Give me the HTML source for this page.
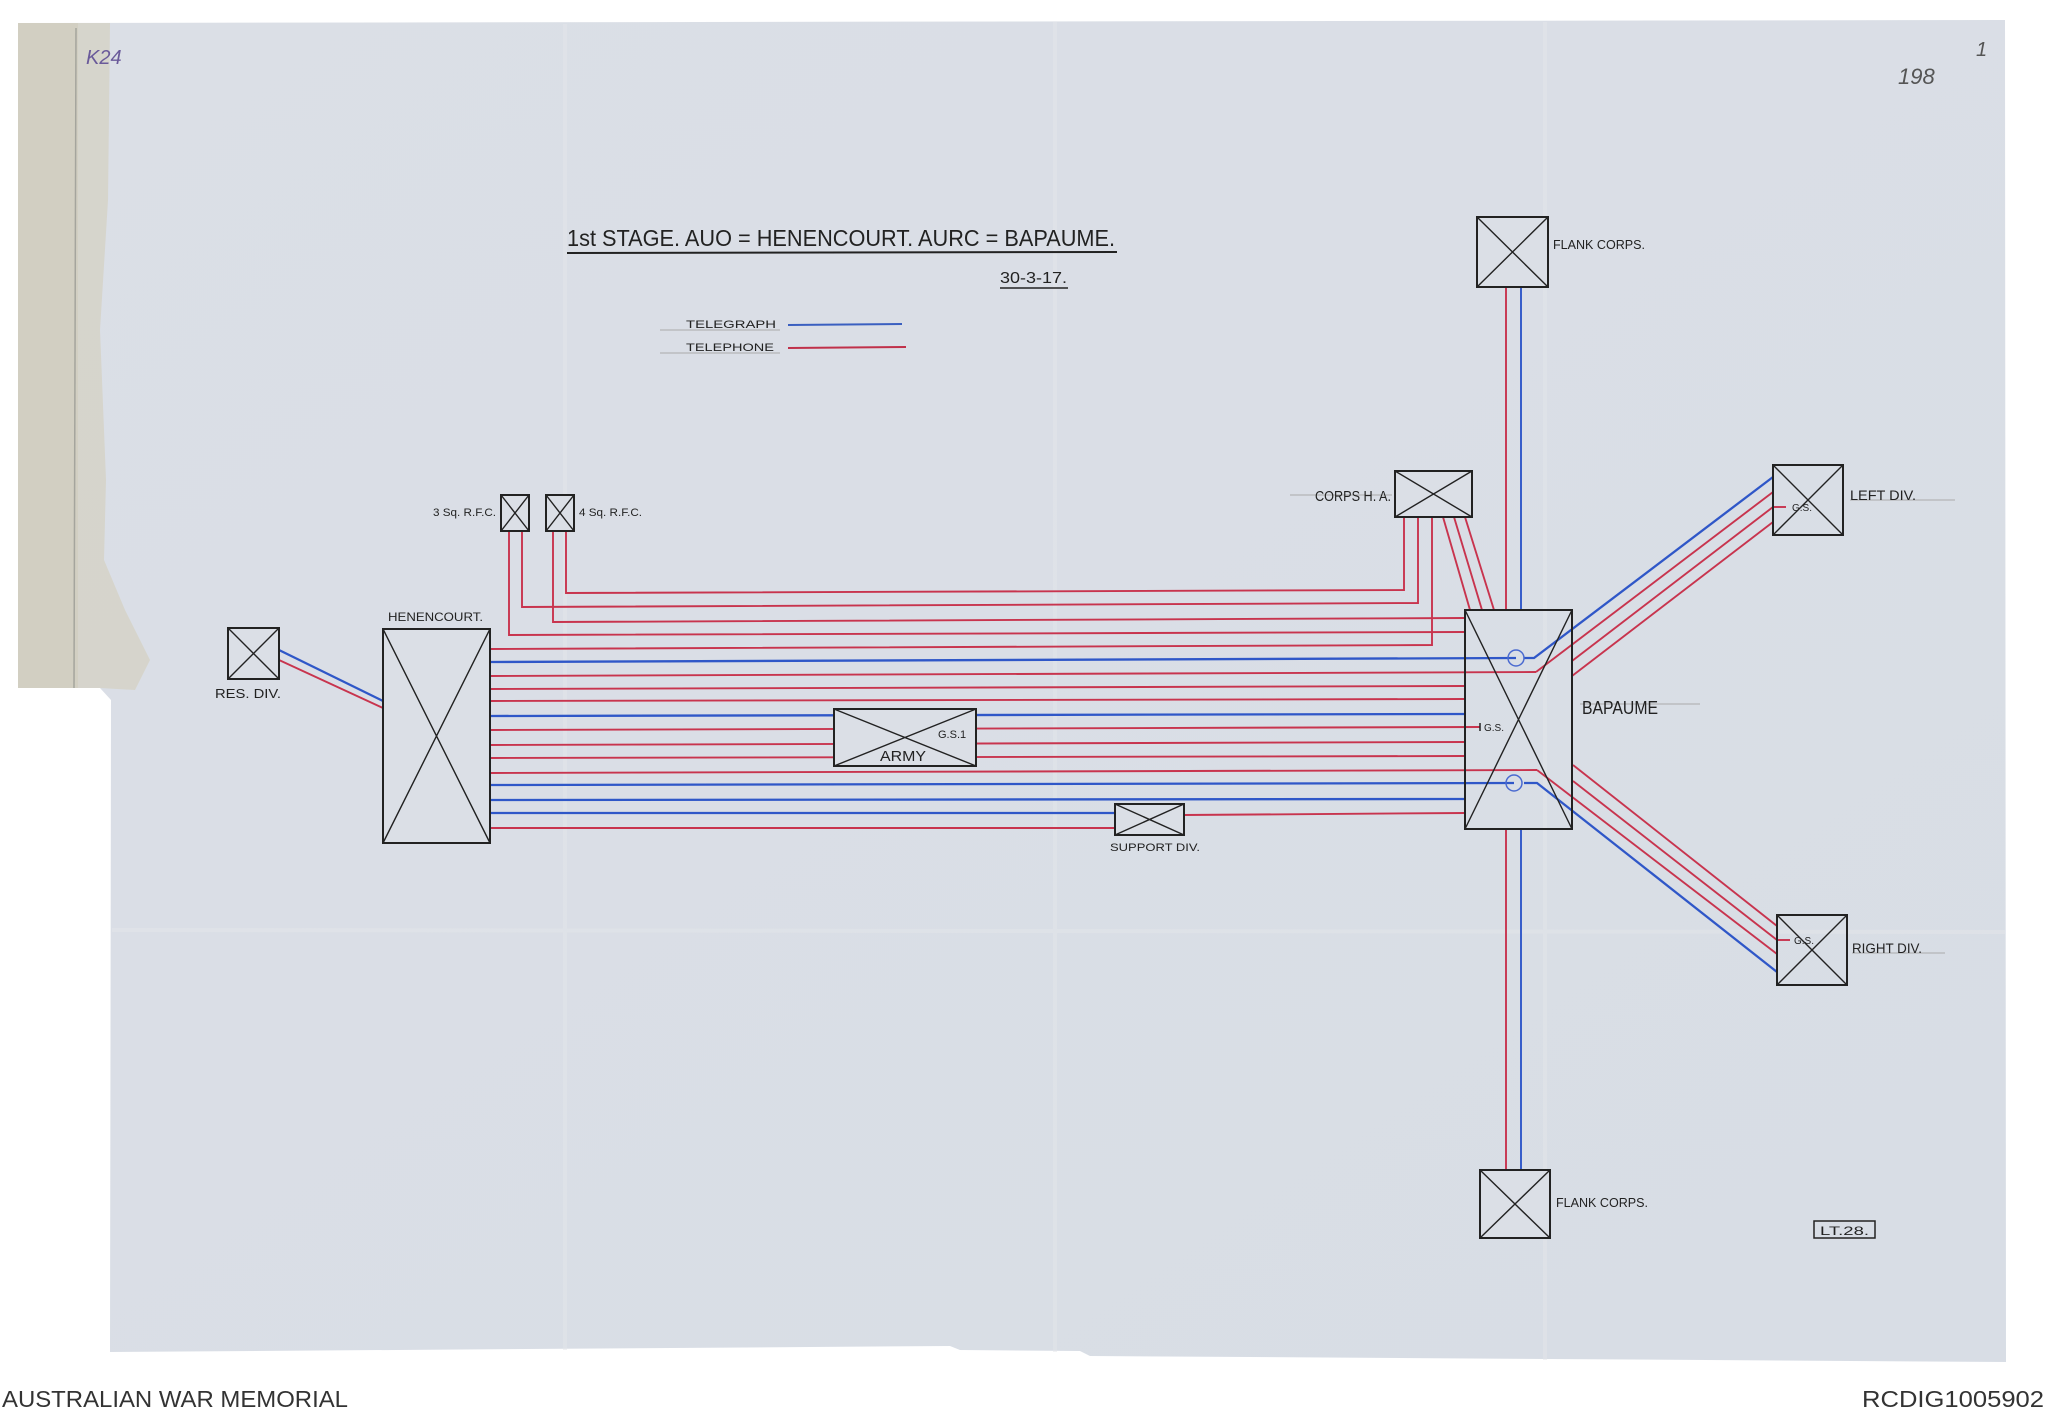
<!DOCTYPE html>
<html><head><meta charset="utf-8"><style>
html,body{margin:0;padding:0;background:#fff;width:2048px;height:1416px;overflow:hidden}
svg{display:block}
text{font-family:"Liberation Sans",sans-serif;fill:#222}
</style></head><body>
<svg width="2048" height="1416" viewBox="0 0 2048 1416" xmlns="http://www.w3.org/2000/svg">
<defs>
<linearGradient id="pg" x1="0" y1="0" x2="1" y2="1">
<stop offset="0" stop-color="#dbdfe6"/><stop offset="1" stop-color="#d8dde5"/>
</linearGradient>
</defs>
<!-- paper -->
<path d="M18,23 L2005,20 L2006,1362 L1090,1356 L1080,1351 L960,1350 L950,1346 L110,1352 L111,700 L100,688 L18,688 Z" fill="url(#pg)"/>
<!-- tan strip -->
<path d="M18,23 L78,23 L78,688 L18,688 Z" fill="#d2cfc2"/>
<path d="M78,23 L110,23 L108,200 L100,330 L106,480 L104,560 L125,610 L150,660 L135,690 L100,688 L78,688 Z" fill="#d4d0c0" opacity="0.7"/>
<line x1="76" y1="28" x2="74" y2="688" stroke="#a5a59d" stroke-width="1.5"/>
<!-- fold lines -->
<g stroke="#e4e6ea" stroke-width="4" opacity="0.5">
<line x1="565" y1="24" x2="565" y2="1350"/>
<line x1="1055" y1="22" x2="1055" y2="1352"/>
<line x1="1545" y1="22" x2="1545" y2="1360"/>
<line x1="112" y1="930" x2="2005" y2="932"/>
</g>
<!-- marginal notes -->
<text x="86" y="64" font-size="20" font-style="italic" style="fill:#6a5a9a">K24</text>
<text x="1898" y="84" font-size="22" font-style="italic" style="fill:#555">198</text>
<text x="1976" y="56" font-size="20" font-style="italic" style="fill:#555">1</text>

<!-- title -->
<text x="567" y="246" font-size="23" textLength="548" lengthAdjust="spacingAndGlyphs">1st STAGE.   AUO = HENENCOURT.   AURC = BAPAUME.</text>
<line x1="567" y1="253" x2="1117" y2="252" stroke="#222" stroke-width="2"/>
<text x="1000" y="283" font-size="16" textLength="67" lengthAdjust="spacingAndGlyphs">30-3-17.</text>
<line x1="1000" y1="288" x2="1068" y2="288" stroke="#222" stroke-width="1.5"/>
<!-- legend -->
<line x1="660" y1="330" x2="780" y2="330" stroke="#aaa" stroke-width="1"/>
<line x1="660" y1="353" x2="780" y2="353" stroke="#aaa" stroke-width="1"/>
<text x="686" y="328" font-size="11" textLength="90" lengthAdjust="spacingAndGlyphs">TELEGRAPH</text>
<text x="686" y="351" font-size="11" textLength="88" lengthAdjust="spacingAndGlyphs">TELEPHONE</text>
<line x1="788" y1="325" x2="902" y2="324" stroke="#3a5fc0" stroke-width="2"/>
<line x1="788" y1="348" x2="906" y2="347" stroke="#c0304a" stroke-width="2"/>

<g fill="none" stroke-width="1.9">
<!-- RFC lines -->
<polyline points="566,531 566,593 1404,590 1404,517" stroke="#c8344e"/>
<polyline points="522,531 522,607 1418,603 1418,517" stroke="#c8344e"/>
<polyline points="553,531 553,622 1465,618" stroke="#c8344e"/>
<polyline points="509,531 509,635 1465,632" stroke="#c8344e"/>
<!-- Henencourt lines -->
<polyline points="490,649 1432,645 1432,517" stroke="#c8344e"/>
<line x1="490" y1="662" x2="1516" y2="658" stroke="#2f57c8" stroke-width="2.3"/>
<line x1="490" y1="676" x2="1536" y2="672" stroke="#c8344e"/>
<line x1="490" y1="689" x2="1465" y2="686" stroke="#c8344e"/>
<line x1="490" y1="701" x2="1465" y2="699" stroke="#c8344e"/>
<line x1="490" y1="716" x2="1465" y2="714" stroke="#2f57c8" stroke-width="2.3"/>
<line x1="490" y1="730" x2="1480" y2="727" stroke="#c8344e"/>
<line x1="490" y1="745" x2="1465" y2="742" stroke="#c8344e"/>
<line x1="490" y1="758" x2="1465" y2="756" stroke="#c8344e"/>
<line x1="490" y1="773" x2="1537" y2="770" stroke="#c8344e"/>
<line x1="490" y1="785" x2="1514" y2="783" stroke="#2f57c8" stroke-width="2.3"/>
<line x1="490" y1="800" x2="1465" y2="799" stroke="#2f57c8" stroke-width="2.3"/>
<line x1="490" y1="813" x2="1115" y2="813" stroke="#2f57c8" stroke-width="2.3"/>
<line x1="490" y1="828" x2="1115" y2="828" stroke="#c8344e"/>
<line x1="1184" y1="815" x2="1465" y2="813" stroke="#c8344e"/>
<!-- Corps HA slanted -->
<line x1="1443" y1="517" x2="1470" y2="610" stroke="#c8344e"/>
<line x1="1454" y1="517" x2="1482" y2="610" stroke="#c8344e"/>
<line x1="1465" y1="517" x2="1494" y2="610" stroke="#c8344e"/>
<!-- Flank corps verticals -->
<line x1="1506" y1="287" x2="1506" y2="610" stroke="#c8344e"/>
<line x1="1521" y1="287" x2="1521" y2="610" stroke="#2f57c8"/>
<line x1="1506" y1="829" x2="1506" y2="1170" stroke="#c8344e"/>
<line x1="1521" y1="829" x2="1521" y2="1170" stroke="#2f57c8"/>
<!-- Left Div -->
<polyline points="1524,658 1534,658 1773,477" stroke="#2f57c8" stroke-width="2.3"/>
<polyline points="1536,672 1773,492" stroke="#c8344e"/>
<line x1="1572" y1="661" x2="1773" y2="507" stroke="#c8344e"/>
<line x1="1572" y1="676" x2="1773" y2="522" stroke="#c8344e"/>
<line x1="1773" y1="507" x2="1786" y2="507" stroke="#c8344e"/>
<!-- Right Div -->
<line x1="1573" y1="765" x2="1777" y2="926" stroke="#c8344e"/>
<line x1="1573" y1="781" x2="1777" y2="940" stroke="#c8344e"/>
<polyline points="1537,770 1777,954" stroke="#c8344e"/>
<polyline points="1524,783 1537,783 1777,972" stroke="#2f57c8" stroke-width="2.3"/>
<line x1="1777" y1="940" x2="1790" y2="940" stroke="#c8344e"/>
<!-- Res Div -->
<line x1="279" y1="650" x2="383" y2="701" stroke="#2f57c8" stroke-width="2.3"/>
<line x1="279" y1="660" x2="383" y2="708" stroke="#c8344e"/>
</g>

<!-- boxes -->
<g fill="#dbdfe6" stroke="#222" stroke-width="2">
<rect x="228" y="628" width="51" height="51"/>
<rect x="383" y="629" width="107" height="214"/>
<rect x="501" y="495" width="28" height="36"/>
<rect x="546" y="495" width="28" height="36"/>
<rect x="834" y="709" width="142" height="57"/>
<rect x="1115" y="804" width="69" height="31"/>
<rect x="1395" y="471" width="77" height="46"/>
<rect x="1465" y="610" width="107" height="219" fill="none"/>
<rect x="1477" y="217" width="71" height="70"/>
<rect x="1480" y="1170" width="70" height="68"/>
<rect x="1773" y="465" width="70" height="70" fill="none"/>
<rect x="1777" y="915" width="70" height="70" fill="none"/>
</g>
<g stroke="#222" stroke-width="1.4" fill="none">
<path d="M228,628 L279,679 M279,628 L228,679"/>
<path d="M383,629 L490,843 M490,629 L383,843"/>
<path d="M501,495 L529,531 M529,495 L501,531"/>
<path d="M546,495 L574,531 M574,495 L546,531"/>
<path d="M834,709 L976,766 M976,709 L834,766"/>
<path d="M1115,804 L1184,835 M1184,804 L1115,835"/>
<path d="M1395,471 L1472,517 M1472,471 L1395,517"/>
<path d="M1465,610 L1572,829 M1572,610 L1465,829"/>
<path d="M1477,217 L1548,287 M1548,217 L1477,287"/>
<path d="M1480,1170 L1550,1238 M1550,1170 L1480,1238"/>
<path d="M1773,465 L1843,535 M1843,465 L1773,535"/>
<path d="M1777,915 L1847,985 M1847,915 L1777,985"/>
</g>
<!-- circles in Bapaume -->
<circle cx="1516" cy="658" r="8" fill="none" stroke="#4a6ad0" stroke-width="1.5"/>
<circle cx="1514" cy="783" r="8" fill="none" stroke="#4a6ad0" stroke-width="1.5"/>
<line x1="1480" y1="723" x2="1480" y2="731" stroke="#222" stroke-width="1.5"/>
<text x="1484" y="731" font-size="10">G.S.</text>
<text x="1792" y="511" font-size="10">G.S.</text>
<text x="1794" y="944" font-size="10">G.S.</text>
<text x="938" y="738" font-size="11">G.S.1</text>
<text x="880" y="761" font-size="15" textLength="46" lengthAdjust="spacingAndGlyphs">ARMY</text>

<!-- labels -->
<text x="388" y="621" font-size="12" textLength="95" lengthAdjust="spacingAndGlyphs">HENENCOURT.</text>
<text x="215" y="698" font-size="13" textLength="66" lengthAdjust="spacingAndGlyphs">RES. DIV.</text>
<text x="433" y="516" font-size="11" textLength="63" lengthAdjust="spacingAndGlyphs">3 Sq. R.F.C.</text>
<text x="579" y="516" font-size="11" textLength="63" lengthAdjust="spacingAndGlyphs">4 Sq. R.F.C.</text>
<text x="1110" y="851" font-size="11" textLength="90" lengthAdjust="spacingAndGlyphs">SUPPORT DIV.</text>
<line x1="1290" y1="495" x2="1392" y2="495" stroke="#aaa" stroke-width="1"/>
<text x="1315" y="501" font-size="15" textLength="76" lengthAdjust="spacingAndGlyphs">CORPS H. A.</text>
<text x="1553" y="249" font-size="13" textLength="92" lengthAdjust="spacingAndGlyphs">FLANK CORPS.</text>
<text x="1556" y="1207" font-size="13" textLength="92" lengthAdjust="spacingAndGlyphs">FLANK CORPS.</text>
<line x1="1580" y1="704" x2="1700" y2="704" stroke="#aaa" stroke-width="1"/>
<text x="1582" y="714" font-size="18" textLength="76" lengthAdjust="spacingAndGlyphs">BAPAUME</text>
<line x1="1850" y1="500" x2="1955" y2="500" stroke="#aaa" stroke-width="1"/>
<text x="1850" y="500" font-size="14" textLength="66" lengthAdjust="spacingAndGlyphs">LEFT DIV.</text>
<line x1="1852" y1="953" x2="1945" y2="953" stroke="#aaa" stroke-width="1"/>
<text x="1852" y="953" font-size="14" textLength="70" lengthAdjust="spacingAndGlyphs">RIGHT DIV.</text>
<rect x="1814" y="1221" width="61" height="17" fill="none" stroke="#222" stroke-width="1.5"/>
<text x="1820" y="1235" font-size="12" textLength="49" lengthAdjust="spacingAndGlyphs">LT.28.</text>

<!-- footer -->
<text x="2" y="1407" font-size="23" textLength="346" lengthAdjust="spacingAndGlyphs" style="fill:#333;font-family:'Liberation Sans Narrow','Liberation Sans',sans-serif">AUSTRALIAN WAR MEMORIAL</text>
<text x="1862" y="1407" font-size="23" textLength="182" lengthAdjust="spacingAndGlyphs" style="fill:#333;font-family:'Liberation Sans Narrow','Liberation Sans',sans-serif">RCDIG1005902</text>
</svg>
</body></html>
